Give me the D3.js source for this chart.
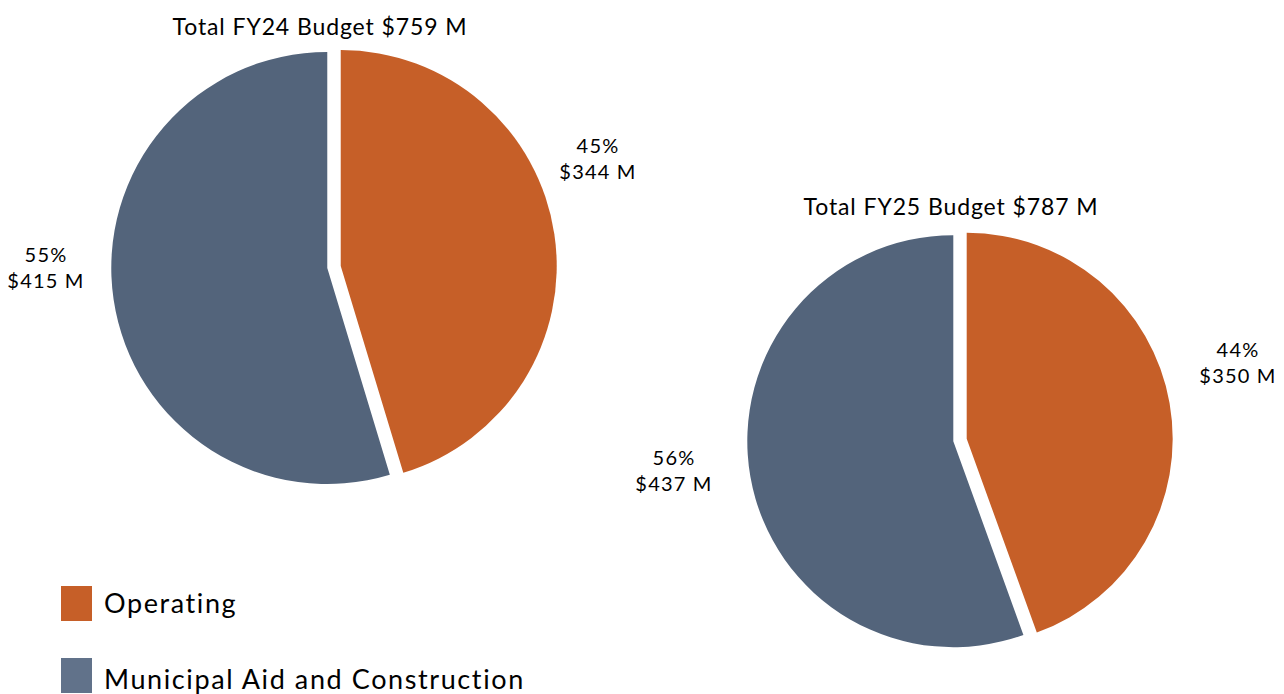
<!DOCTYPE html>
<html>
<head>
<meta charset="utf-8">
<title>FY24 / FY25 Budget</title>
<script src="https://cdn.jsdelivr.net/npm/d3@7"></script>
<style>
  body { margin: 0; background: #fff; }
  svg { font-family: "Lato", "Noto Sans", sans-serif; }
</style>
</head>
<body>
<script>
// data
var categories = ["Operating", "Municipal Aid and Construction"];
var years = ["FY24", "FY25"];
var totals = [759, 787];
var fy24Values = [344, 415];
var fy25Values = [350, 437];
var fy24Pct = [45, 55];
var fy25Pct = [44, 56];

var colors = ["#c65f28", "#53647b"];
var legendColors = ["#c65f28", "#61728a"];

var w = 1284, h = 694;
var svg = d3.select("body").append("svg")
    .attr("width", w)
    .attr("height", h);

// layout for each pie (center, radius, title and label spots)
var pies = [
  { values: fy24Values, pct: fy24Pct, cx: 334, cy: 267, r: 216, titleX: 320, titleY: 35,
    labels: [[598, 153], [46, 262]] },
  { values: fy25Values, pct: fy25Pct, cx: 960, cy: 440, r: 206, titleX: 951, titleY: 215,
    labels: [[1238, 357], [674, 465]] }
];

var pie = d3.pie().sort(null).value(function(d) { return d; });
var explode = 6.8;

pies.forEach(function(p, i) {
  var g = svg.append("g").attr("transform", "translate(" + p.cx + "," + p.cy + ")");
  var arc = d3.arc().innerRadius(0).outerRadius(p.r);
  var arcs = pie(p.values);

  g.selectAll("path")
    .data(arcs)
    .enter()
    .append("path")
    .attr("d", arc)
    .attr("fill", function(d, j) { return colors[j]; })
    .attr("transform", function(d) {
      var a = (d.startAngle + d.endAngle) / 2;
      return "translate(" + (Math.sin(a) * explode) + "," + (-Math.cos(a) * explode) + ")";
    });

  svg.append("text")
    .attr("x", p.titleX)
    .attr("y", p.titleY)
    .attr("text-anchor", "middle")
    .attr("font-size", 23)
    .attr("letter-spacing", 0.9)
    .attr("fill", "#000")
    .text("Total " + years[i] + " Budget $" + totals[i] + " M");

  arcs.forEach(function(d, j) {
    var t = svg.append("text")
      .attr("x", p.labels[j][0])
      .attr("y", p.labels[j][1])
      .attr("text-anchor", "middle")
      .attr("font-size", 20)
      .attr("letter-spacing", 1.2)
      .attr("fill", "#000");
    t.append("tspan").attr("x", p.labels[j][0]).text(p.pct[j] + "%");
    t.append("tspan").attr("x", p.labels[j][0]).attr("dy", 26).text("$" + d.data + " M");
  });
});

// legend
var legend = svg.selectAll(".legend")
    .data(categories)
    .enter()
    .append("g")
    .attr("class", "legend")
    .attr("transform", function(d, i) { return "translate(61," + (586 + i * 72) + ")"; });

legend.append("rect")
    .attr("width", 31)
    .attr("height", 35)
    .attr("fill", function(d, i) { return legendColors[i]; });

legend.append("text")
    .attr("x", 43)
    .attr("y", function(d, i) { return 27 + i * 4; })
    .attr("font-size", 27)
    .attr("letter-spacing", 1.6)
    .attr("fill", "#000")
    .text(function(d) { return d; });
</script>
</body>
</html>
